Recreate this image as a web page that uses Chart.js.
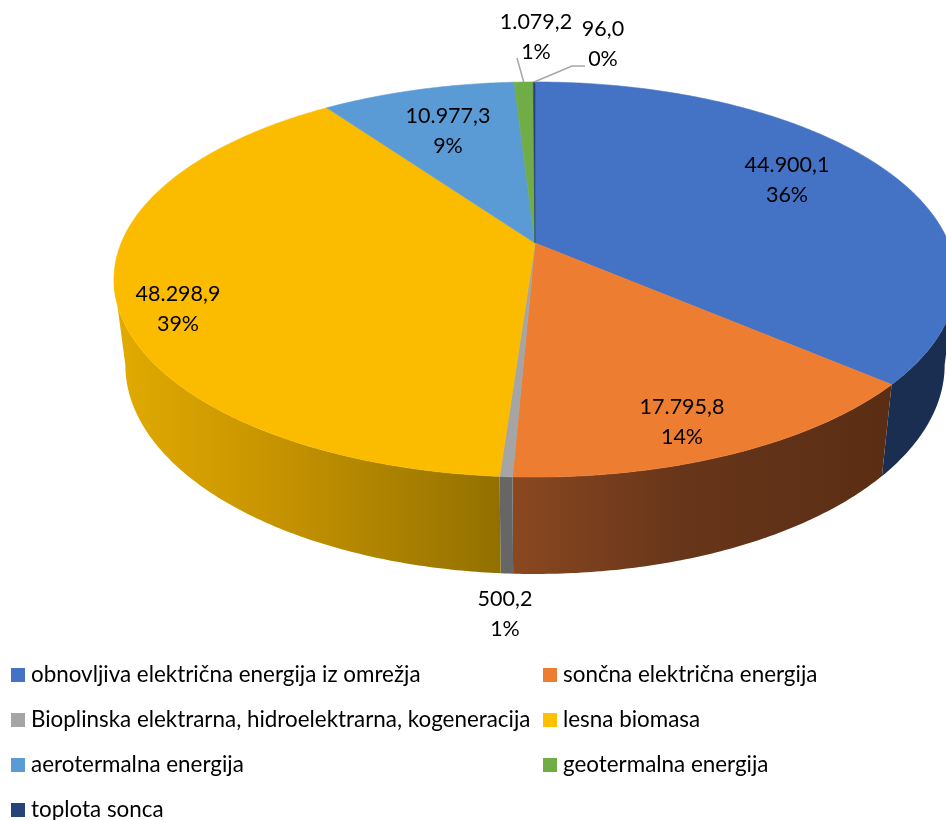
<!DOCTYPE html>
<html>
<head>
<meta charset="utf-8">
<title>Energija</title>
<script src="https://cdn.jsdelivr.net/npm/chart.js@4"></script>
<style>
  html, body { margin: 0; padding: 0; background: #fff; }
  canvas { display: block; }
</style>
</head>
<body>
<canvas id="pieChart" width="946" height="820"></canvas>
<script>
// data
var categories = [
    'obnovljiva električna energija iz omrežja',
    'sončna električna energija',
    'Bioplinska elektrarna, hidroelektrarna, kogeneracija',
    'lesna biomasa',
    'aerotermalna energija',
    'geotermalna energija',
    'toplota sonca'
];
var values = [44900.1, 17795.8, 500.2, 48298.9, 10977.3, 1079.2, 96.0];
var percentLabels = ['36%', '14%', '1%', '39%', '9%', '1%', '0%'];

// colours
var topColors = ['#4472C4', '#ED7D31', '#A5A5A5', '#FBBC00', '#5B9BD5', '#70AD47', '#264478'];
var legendColors = ['#4472C4', '#ED7D31', '#A5A5A5', '#FFC000', '#5B9BD5', '#70AD47', '#264478'];
var sideStops = [
    [[0, '#1A2E52'], [1, '#1A2E52']],
    [[0, '#8A4820'], [0.45, '#67351A'], [1, '#5A2E14']],
    [[0, '#666666'], [1, '#666666']],
    [[0, '#E2AB00'], [0.45, '#C49200'], [1, '#927000']],
    [[0, '#37618A'], [1, '#37618A']],
    [[0, '#42682A'], [1, '#42682A']],
    [[0, '#162848'], [1, '#162848']]
];

// perspective of the top face and of the bottom face
var topFace = { cx: 535, cy: 243, a: 413.8, b: 190.8, k: 0.1848 };
var bottomFace = { cx: 535, cy: 326.3, a: 402.6, b: 201.9, k: 0.1848 };

// label layout (centre of the two line block)
var labelCenters = [[787, 180], [682, 422], [505, 614], [178, 309], [448, 131], [536, 37], [603, 44]];
var leaderStarts = [null, null, null, null, null, [[517, 58]], [[585, 66], [572, 66]]];
var legendCells = [[11, 668], [543, 668], [11, 713], [543, 713], [11, 758], [543, 758], [11, 803]];

var labelFont = '21.5px Lato';
var legendFont = '22.4px Lato';

function project(face, angle, r) {
    var u = Math.cos(angle) * r;
    var v = Math.sin(angle) * r;
    var d = 1 - face.k * v;
    return [face.cx + face.a * u / d, face.cy + face.b * v / d];
}

function formatValue(v) {
    var parts = v.toFixed(1).split('.');
    return parts[0].replace(/\B(?=(\d{3})+$)/g, '.') + ',' + parts[1];
}

function arcPath(ctx, face, start, end, first) {
    var steps = Math.max(2, Math.ceil(Math.abs(end - start) / 0.01));
    for (var i = 0; i <= steps; i++) {
        var p = project(face, start + (end - start) * i / steps, 1);
        if (i === 0 && first) ctx.moveTo(p[0], p[1]);
        else ctx.lineTo(p[0], p[1]);
    }
}

// draws the arcs of the pie controller as a tilted 3D pie
var pie3d = {
    id: 'pie3d',
    beforeDatasetsDraw: function (chart) {
        var ctx = chart.ctx;
        var arcs = chart.getDatasetMeta(0).data;
        // where the wall turns away from the viewer
        var edge = Math.asin(topFace.k);

        // side wall, only the part facing the viewer
        arcs.forEach(function (arc, i) {
            var start = Math.max(arc.startAngle, edge);
            var end = Math.min(arc.endAngle, Math.PI - edge);
            if (end <= start) return;
            var xs = [];
            var steps = 60;
            for (var s = 0; s <= steps; s++) {
                var a = start + (end - start) * s / steps;
                xs.push(project(topFace, a, 1)[0]);
                xs.push(project(bottomFace, a, 1)[0]);
            }
            var grad = ctx.createLinearGradient(Math.min.apply(null, xs), 0, Math.max.apply(null, xs), 0);
            sideStops[i].forEach(function (st) { grad.addColorStop(st[0], st[1]); });
            ctx.beginPath();
            arcPath(ctx, topFace, start, end, true);
            arcPath(ctx, bottomFace, end, start, false);
            ctx.closePath();
            ctx.fillStyle = grad;
            ctx.fill();
        });

        // top face
        arcs.forEach(function (arc, i) {
            ctx.beginPath();
            ctx.moveTo(topFace.cx, topFace.cy);
            arcPath(ctx, topFace, arc.startAngle, arc.endAngle, false);
            ctx.closePath();
            ctx.fillStyle = topColors[i];
            ctx.strokeStyle = topColors[i];
            ctx.lineWidth = 0.6;
            ctx.fill();
            ctx.stroke();
        });
        return false;
    },
    afterDraw: function (chart) {
        var ctx = chart.ctx;
        var arcs = chart.getDatasetMeta(0).data;
        ctx.save();

        // leader lines
        ctx.strokeStyle = '#A6A6A6';
        ctx.lineWidth = 1.5;
        arcs.forEach(function (arc, i) {
            if (!leaderStarts[i]) return;
            var end = project(topFace, (arc.startAngle + arc.endAngle) / 2, 1);
            ctx.beginPath();
            leaderStarts[i].forEach(function (p, n) {
                if (n === 0) ctx.moveTo(p[0], p[1]);
                else ctx.lineTo(p[0], p[1]);
            });
            ctx.lineTo(end[0], end[1]);
            ctx.stroke();
        });

        // value and percent labels
        ctx.fillStyle = '#000';
        ctx.font = labelFont;
        ctx.textAlign = 'center';
        ctx.textBaseline = 'middle';
        values.forEach(function (v, i) {
            var c = labelCenters[i];
            ctx.fillText(formatValue(v), c[0], c[1] - 15);
            ctx.fillText(percentLabels[i], c[0], c[1] + 15);
        });

        // legend in two columns
        ctx.font = legendFont;
        ctx.textAlign = 'left';
        categories.forEach(function (name, i) {
            var cell = legendCells[i];
            ctx.fillStyle = legendColors[i];
            ctx.fillRect(cell[0], cell[1], 14, 14);
            ctx.fillStyle = '#000';
            ctx.fillText(name, cell[0] + 20, cell[1] + 7);
        });
        ctx.restore();
    }
};

var ctx1 = document.getElementById('pieChart').getContext('2d');
var pieChart = new Chart(ctx1, {
    type: 'pie',
    data: {
        labels: categories,
        datasets: [{
            data: values,
            backgroundColor: topColors
        }]
    },
    options: {
        responsive: false,
        animation: false,
        plugins: {
            legend: { display: false },
            tooltip: { enabled: false }
        }
    },
    plugins: [pie3d]
});
</script>
</body>
</html>
